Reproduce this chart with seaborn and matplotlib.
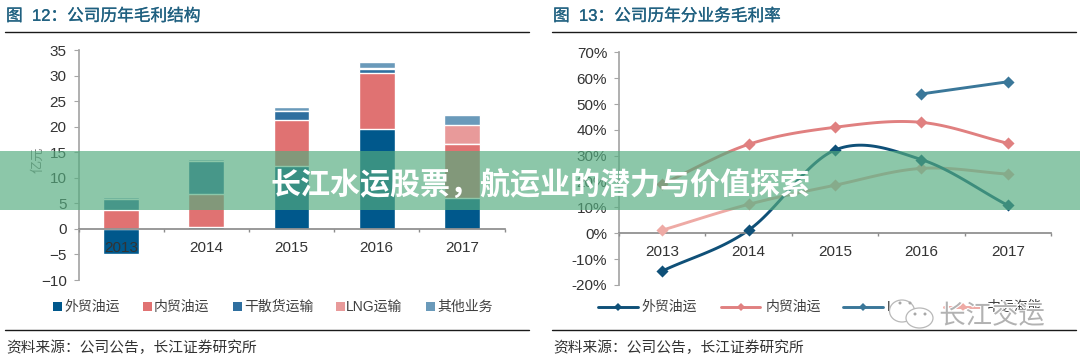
import numpy as np
import pandas as pd
import matplotlib
matplotlib.use("Agg")
import matplotlib.pyplot as plt
import matplotlib.patheffects as pe
from matplotlib.patches import Rectangle, Ellipse
from matplotlib.lines import Line2D
import seaborn as sns

# Chart data
years = ["2013", "2014", "2015", "2016", "2017"]

# left chart, gross profit (100m yuan)
foreign_oil = [-4.9, 0.3, 12.3, 19.5, 6.0]
domestic_oil = [3.6, 6.6, 9.0, 11.0, 10.7]
dry_bulk = [2.3, 6.3, 1.7, 0.7, 0.0]
lng = [0.0, 0.0, 0.0, 0.3, 3.6]
other = [0.3, 0.4, 0.8, 1.1, 2.0]
bar_names = ["外贸油运", "内贸油运", "干散货运输", "LNG运输", "其他业务"]
bar_colors = ["#00588C", "#E07272", "#2F6F9F", "#E89A9A", "#6A9ABA"]
bar_ticks = [-10, -5, 0, 5, 10, 15, 20, 25, 30, 35]

# right chart, gross margin (%)
foreign_margin = [-14.6, 1.2, 32.2, 28.5, 10.8]
domestic_margin = [19.0, 34.4, 41.0, 42.9, 34.8]
lng_margin = [np.nan, np.nan, np.nan, 53.9, 58.6]
company_margin = [1.2, 11.2, 18.6, 25.1, 22.9]
line_names = ["外贸油运", "内贸油运", "LNG运输", "中远海能"]
line_colors = ["#0F5078", "#E08080", "#3A7799", "#EEAAA5"]
margin_ticks = [-20, -10, 0, 10, 20, 30, 40, 50, 60, 70]

sns.set_theme(style="white")
plt.rcParams["font.family"] = ["Liberation Sans", "Noto Sans CJK SC"]

W, H = 1080, 362
fig = plt.figure(figsize=(W / 100, H / 100), dpi=100, facecolor="white")


def px_box(x0, y0, x1, y1):
    """Axes rectangle from pixel corners (y counted from the top)."""
    return [x0 / W, 1 - y1 / H, (x1 - x0) / W, (y1 - y0) / H]


def fig_text(x, y, s, **kw):
    kw.setdefault("va", "center")
    kw.setdefault("ha", "left")
    return fig.text(x / W, 1 - y / H, s, **kw)


def smooth(values):
    """Excel style smoothed line through the points."""
    pts = pd.Series(values).dropna()
    xs, ys = pts.index.to_numpy(dtype=float), pts.to_numpy()
    tang = np.gradient(ys)
    out_x, out_y = [], []
    t = np.linspace(0, 1, 30)
    for i in range(len(ys) - 1):
        h00 = 2 * t**3 - 3 * t**2 + 1
        h10 = t**3 - 2 * t**2 + t
        h01 = -2 * t**3 + 3 * t**2
        h11 = t**3 - t**2
        out_x.extend(xs[i] + t)
        out_y.extend(h00 * ys[i] + h10 * tang[i] + h01 * ys[i + 1] + h11 * tang[i + 1])
    return out_x, out_y, xs, ys


def style_axis(ax):
    sns.despine(ax=ax)
    ax.set_axisbelow(False)
    ax.spines["left"].set_color("#A6A6A6")
    ax.spines["bottom"].set_color("#8C8C8C")
    ax.spines["bottom"].set_position(("data", 0))
    ax.set_xlim(-0.5, 4.5)
    ax.set_xticks(range(5))
    ax.set_xticklabels(years)
    ax.set_xticks(np.arange(-0.5, 5), minor=True)
    ax.tick_params(axis="x", which="major", length=0, pad=8.5, labelsize=11, labelcolor="#333333")
    ax.tick_params(axis="x", which="minor", length=2.5, color="#8C8C8C", bottom=True)
    ax.tick_params(axis="y", length=3.5, width=0.8, color="#A6A6A6", pad=5, labelsize=11,
                   labelcolor="#333333", left=True)
    ax.set_xlabel("")
    ax.set_ylabel("")
    ax.patch.set_alpha(0)


# Left chart: stacked bars, tallest stack painted first
ax1 = fig.add_axes(px_box(78.5, 50, 504.5, 280))
series = [np.array(s) for s in [foreign_oil, domestic_oil, dry_bulk, lng, other]]
stack = np.cumsum([np.clip(s, 0, None) for s in series], axis=0)
for i in range(4, -1, -1):
    sns.barplot(x=years, y=stack[i], order=years, color=bar_colors[i], saturation=1,
                width=0.42, errorbar=None, ax=ax1)
sns.barplot(x=years, y=np.clip(series[0], None, 0), order=years, color=bar_colors[0],
            saturation=1, width=0.42, errorbar=None, ax=ax1)
ax1.set_ylim(-10, 35)
ax1.set_yticks(bar_ticks)
style_axis(ax1)
fig_text(38, 160, "亿元", rotation=90, ha="center", color="#7F7F7F", fontsize=9.5)

# Right chart: smoothed lines with diamond markers
ax2 = fig.add_axes(px_box(619, 52.3, 1051, 285))
margins = [foreign_margin, domestic_margin, lng_margin, company_margin]
for i in [3, 1, 2, 0]:
    cx, cy, mx, my = smooth(margins[i])
    sns.lineplot(x=cx, y=cy, sort=False, estimator=None, color=line_colors[i], linewidth=2.1, ax=ax2)
    sns.scatterplot(x=mx, y=my, marker="D", s=38, color=line_colors[i], linewidth=0, ax=ax2, zorder=4)
ax2.set_ylim(-20, 70)
ax2.set_yticks(margin_ticks)
ax2.set_yticklabels([f"{v}%" for v in margin_ticks])
style_axis(ax2)

# Titles, rules, sources
title_color = "#1F6080"
title_fx = [pe.withStroke(linewidth=0.2, foreground=title_color)]
fig_text(6, 16, "图  12：公司历年毛利结构", color=title_color, fontsize=12, path_effects=title_fx)
fig_text(553, 16, "图  13：公司历年分业务毛利率", color=title_color, fontsize=12, path_effects=title_fx)
for x0, x1 in [(5, 529), (552, 1076)]:
    for y in [31.5, 329.5]:
        fig.add_artist(Line2D([x0 / W, x1 / W], [1 - y / H] * 2, color="#1A1A1A", lw=1))
fig_text(6, 347.5, "资料来源：公司公告，长江证券研究所", color="#333333", fontsize=10.6)
fig_text(553, 347.5, "资料来源：公司公告，长江证券研究所", color="#333333", fontsize=10.6)

# Left legend
legend_y = 306.5
square_x = [53, 143, 233, 336, 426]
label_x = [64, 154, 244, 346, 437]
for i, name in enumerate(bar_names):
    fig.add_artist(Rectangle((square_x[i] / W, 1 - (legend_y + 4.5) / H), 9 / W, 9 / H,
                             transform=fig.transFigure, color=bar_colors[i], lw=0))
    fig_text(label_x[i], legend_y, name, color="#404040", fontsize=10)

# Right legend
line_x = [(598, 638), (721, 760), (843, 883), (944, 982)]
text_x = [641.5, 765.5, 887, 987]
for i, name in enumerate(line_names):
    x0, x1 = line_x[i]
    fig.add_artist(Line2D([x0 / W, x1 / W], [1 - legend_y / H] * 2, color=line_colors[i], lw=2.1))
    fig.add_artist(Line2D([(x0 + x1) / 2 / W], [1 - legend_y / H], color=line_colors[i],
                          marker="D", ms=4.5, mew=0, lw=0))
    fig_text(text_x[i], legend_y, name, color="#404040", fontsize=10)

# WeChat watermark over the right legend, it blanks what lies beneath
fig.add_artist(Rectangle((893 / W, 1 - 316 / H), 49 / W, 18 / H, transform=fig.transFigure,
                         color="white", lw=0, zorder=3.5))
for cx, cy, rx, ry in [(902, 311, 12.5, 11), (919.5, 318, 13.5, 10)]:
    fig.add_artist(Ellipse((cx / W, 1 - cy / H), 2 * rx / W, 2 * ry / H, transform=fig.transFigure,
                           facecolor="white", edgecolor="#B8B8B8", lw=0.9, zorder=4))
for ex, ey in [(900, 303), (910, 303), (915, 314), (925, 314)]:
    fig.add_artist(Ellipse((ex / W, 1 - ey / H), 3 / W, 3 / H, transform=fig.transFigure,
                           color="#A8A8A8", lw=0, zorder=4))
fig_text(992, 316, "长江交运", ha="center", color="#B2B2B2", fontsize=19, zorder=4,
         path_effects=[pe.withStroke(linewidth=1.6, foreground="white")])

# Banner across the whole picture
fig.add_artist(Rectangle((0, 1 - 210 / H), 1, 59 / H, transform=fig.transFigure,
                         facecolor=(84 / 255, 172 / 255, 127 / 255), alpha=0.67, lw=0, zorder=5))
fig_text(540.5, 184.5, "长江水运股票，航运业的潜力与价值探索", ha="center", color="white",
         fontsize=21.6, fontweight="bold", zorder=6)

fig.savefig("out.png", dpi=100)
